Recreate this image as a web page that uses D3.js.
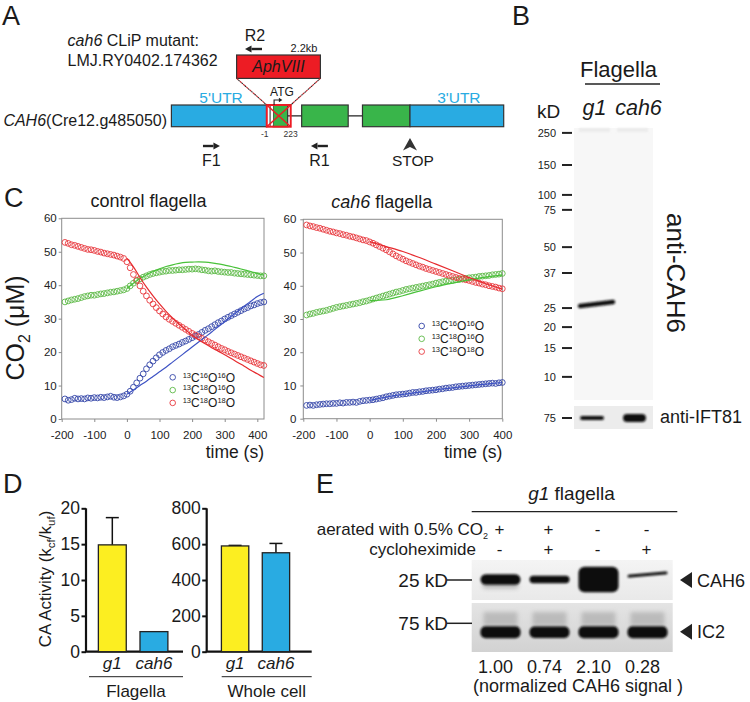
<!DOCTYPE html>
<html><head><meta charset="utf-8">
<script src="https://cdn.jsdelivr.net/npm/d3@7/dist/d3.min.js"></script>
<style>html,body{margin:0;padding:0;background:#fff;}svg{display:block;}</style>
</head><body>
<svg id="fig" width="750" height="702"></svg>
<script>
// ================= DATA =================
// Panel C – control flagella (time s, CO2 µM)
const ctrlTime = d3.range(-190, 421, 10);
const ctrl16_16 = [6.0,5.6,5.8,6.2,6.0,6.1,6.0,6.3,6.2,6.4,6.3,6.5,6.4,6.6,6.8,6.5,6.4,6.6,6.9,
  7.4,8.3,9.5,10.8,12.2,13.5,15.0,16.2,17.3,18.3,19.2,19.9,20.5,21.0,21.6,22.0,22.4,22.9,23.3,23.8,24.3,24.8,25.3,25.9,26.5,27.0,27.6,28.2,28.8,29.3,29.9,30.4,30.9,31.4,31.9,32.4,32.9,33.3,33.8,34.1,34.5,34.8,35.0];
const ctrl18_16 = [35.0,35.3,35.6,35.8,36.0,36.3,36.6,36.8,37.0,37.0,37.2,37.4,37.5,37.7,37.9,38.0,38.2,38.4,38.6,
  39.0,39.8,40.6,41.3,41.9,42.4,42.8,43.2,43.5,43.7,43.9,44.1,44.2,44.4,44.4,44.5,44.6,44.6,44.7,44.8,44.8,44.9,44.8,44.6,44.5,44.3,44.2,44.3,44.1,44.0,43.9,43.8,43.8,43.6,43.5,43.4,43.3,43.2,43.1,43.0,42.9,42.8,42.8];
const ctrl18_18 = [52.8,52.5,52.1,51.9,51.6,51.3,51.0,50.7,50.6,50.4,50.1,49.9,49.6,49.4,49.2,49.0,48.7,48.4,48.0,
  47.0,45.2,43.2,41.5,39.8,38.2,36.8,35.5,34.4,33.3,32.3,31.4,30.5,29.8,29.2,28.6,28.0,27.4,26.8,26.2,25.6,25.1,24.6,24.1,23.6,23.1,22.6,22.1,21.6,21.1,20.7,20.2,19.8,19.4,19.0,18.6,18.2,17.8,17.4,17.0,16.6,16.2,16.0];
const ctrlFitTime = d3.range(0, 421, 20);
const ctrlFit16_16 = [7.4,8.7,10.0,11.3,12.7,14.1,15.5,17.0,18.5,20.0,21.5,23.0,24.5,26.0,27.6,29.1,30.7,32.2,33.7,35.2,36.6,37.6];
const ctrlFit18_16 = [39.0,40.6,42.0,43.1,44.1,44.9,45.6,46.1,46.5,46.8,46.9,47.0,46.9,46.7,46.4,46.0,45.6,45.1,44.6,44.1,43.5,43.0];
const ctrlFit18_18 = [48.0,45.5,42.3,39.4,36.8,34.4,32.2,30.2,28.4,26.7,25.0,23.7,22.5,21.3,20.3,19.2,18.1,16.9,15.8,14.6,13.5,12.4];
// Panel C – cah6 flagella
const cahTime = d3.range(-190, 401, 10);
const cah16_16 = [4.0,4.1,4.0,4.2,4.3,4.4,4.5,4.5,4.6,4.6,4.8,4.7,4.9,4.9,5.0,4.9,5.2,5.4,5.5,
  5.6,5.7,5.9,6.1,6.3,6.6,6.8,7.0,7.2,7.3,7.4,7.5,7.7,7.9,7.9,8.1,8.2,8.4,8.5,8.6,8.7,8.9,9.0,9.2,9.3,9.4,9.6,9.7,9.8,9.9,10.0,10.1,10.2,10.3,10.4,10.5,10.6,10.7,10.6,10.8,10.9];
const cah18_16 = [31.2,31.5,31.7,32.0,32.2,32.4,32.6,32.9,33.2,33.5,33.7,33.9,34.1,34.3,34.5,34.7,34.9,35.2,35.4,
  35.7,36.0,36.3,36.6,36.9,37.2,37.5,37.8,38.1,38.3,38.6,38.9,39.1,39.3,39.5,39.7,39.9,40.1,40.3,40.5,40.8,41.0,41.2,41.4,41.5,41.6,41.8,41.9,42.1,42.2,42.4,42.5,42.6,42.8,42.9,43.0,43.1,43.3,43.4,43.5,43.7];
const cah18_18 = [58.3,58.0,57.8,57.5,57.3,57.0,56.7,56.4,56.2,55.9,55.7,55.4,55.2,54.9,54.7,54.4,54.1,53.8,53.6,
  53.2,52.8,52.3,51.8,51.3,50.8,50.2,49.6,49.0,48.5,48.0,47.5,47.1,46.7,46.3,45.9,45.6,45.2,44.9,44.6,44.3,44.0,43.7,43.4,43.1,42.8,42.5,42.2,42.0,41.8,41.6,41.3,41.0,40.8,40.5,40.3,40.0,39.8,39.6,39.3,39.1];
const cahFitTime = d3.range(0, 401, 50);
const cahFit16_16 = [5.5,6.5,7.3,8.0,8.7,9.3,9.9,10.4,10.9];
const cahFit18_16 = [35.5,35.8,37.0,38.4,39.7,40.8,41.8,42.6,43.3];
const cahFit18_18 = [53.3,51.8,50.3,48.5,46.5,44.5,42.5,40.6,39.0];
const isotopeNames = [["13","C","16","O","16","O"],["13","C","18","O","16","O"],["13","C","18","O","18","O"]];
const xTicksC = [-200,-100,0,100,200,300,400];
const yTicksC = [0,10,20,30,40,50,60];

// Panel D
const dCategories = ["g1","cah6"];
const flagellaActivity = [14.9, 2.8];
const flagellaErr = [3.8, 0];
const wholeCellActivity = [590, 552];
const wholeCellErr = [3, 52];
const flagellaTicks = [0,5,10,15,20];
const wholeCellTicks = [0,200,400,600,800];

// Panel B
const bLanes = ["g1","cah6"];
const markerKD = ["250","150","100","75","50","37","25","20","15","10"];
const markerRf = [0.018,0.136,0.246,0.301,0.438,0.533,0.662,0.732,0.809,0.915];
const cah6BandRf = 0.647;
const antiCAH6Signal = [1, 0];
const antiIFT81Signal = [0.5, 1];

// Panel E
const eLanes = [0,1,2,3];
const aeratedCO2 = ["+","+","-","-"];
const cycloheximide = ["-","+","-","+"];
const cah6Normalized = [1.00, 0.74, 2.10, 0.28];
const ic2Signal = [1, 0.95, 1, 1];

// Panel A gene model (schematic units 0–100)
const geneFeatures = [
  {type:"utr", start:0, end:28.7, label:"5'UTR"},
  {type:"exon", start:30.6, end:35.0},
  {type:"exon", start:39.2, end:53.2},
  {type:"exon", start:57.5, end:71.8},
  {type:"utr", start:71.8, end:100, label:"3'UTR"}
];
const insertion = {start:28.7, end:35.9};
const primers = [{name:"F1", start:9.5, end:14.6, dir:1}, {name:"R1", start:42.0, end:47.1, dir:-1}];

// ================= DRAW =================
const FONT = '"Liberation Sans", Arial, Helvetica, sans-serif';
const svg = d3.select('#fig').attr('font-family', FONT);
const defs = svg.append('defs');
function addBlur(id, sd){
  const f = defs.append('filter').attr('id', id).attr('filterUnits','userSpaceOnUse')
    .attr('x',0).attr('y',0).attr('width',750).attr('height',702);
  f.append('feGaussianBlur').attr('stdDeviation', sd);
}
addBlur('b05',0.5); addBlur('b08',0.8); addBlur('b12',1.2); addBlur('b2',2); addBlur('b3',3);
function grad(id, c1, c2){
  const g = defs.append('linearGradient').attr('id',id).attr('x1',0).attr('y1',0).attr('x2',0).attr('y2',1);
  g.append('stop').attr('offset','0%').attr('stop-color',c1);
  g.append('stop').attr('offset','100%').attr('stop-color',c2);
}
grad('gUp','#f4f4f4','#e9e9e9');
grad('gLo','#e4e4e4','#d2d2d2');

const INK = '#1a1a1a';
function txt(x, y, s, size, opt={}){
  const t = svg.append('text').attr('x',x).attr('y',y).attr('font-size',size).attr('fill',opt.fill||INK);
  if (s !== null) t.text(s);
  if (opt.anchor) t.attr('text-anchor', opt.anchor);
  if (opt.italic) t.attr('font-style','italic');
  return t;
}

// panel letters
txt(2,25,'A',27); txt(512,25,'B',27); txt(4,207,'C',27); txt(3,493,'D',27); txt(316,493,'E',27);

// ---------- Panel A ----------
txt(67.6,45.6,null,16).call(t=>{t.append('tspan').attr('font-style','italic').text('cah6'); t.append('tspan').text(' CLiP mutant:');});
txt(67.6,66,'LMJ.RY0402.174362',16);
txt(3.4,125.7,null,16).call(t=>{t.append('tspan').attr('font-style','italic').text('CAH6'); t.append('tspan').text('(Cre12.g485050)');});

const gx = d3.scaleLinear().domain([0,100]).range([171.4,503.7]);
const gy0 = 105, gh = 21.7, gyc = gy0 + gh/2;
svg.append('line').attr('x1',gx(0)).attr('x2',gx(100)).attr('y1',gyc).attr('y2',gyc).attr('stroke','#222').attr('stroke-width',1.3);
svg.append('g').selectAll('rect').data(geneFeatures).join('rect')
  .attr('x',d=>gx(d.start)).attr('width',d=>gx(d.end)-gx(d.start)).attr('y',gy0).attr('height',gh)
  .attr('fill',d=>d.type==='utr'?'#29abe2':'#39b54a').attr('stroke','#333').attr('stroke-width',1.2);
svg.append('g').selectAll('text').data(geneFeatures.filter(d=>d.label)).join('text')
  .attr('x',d=>(gx(d.start)+gx(d.end))/2 + 2).attr('y',103).attr('text-anchor','middle').attr('font-size',15.5).attr('fill','#29abe2').text(d=>d.label);
// insertion site
svg.append('rect').attr('x',gx(insertion.start)).attr('y',gy0+1).attr('width',gx(30.6)-gx(insertion.start)).attr('height',gh-2).attr('fill','#fff');
svg.append('line').attr('x1',gx(29.7)).attr('x2',gx(29.7)).attr('y1',gy0).attr('y2',gy0+gh).attr('stroke','#222').attr('stroke-width',1);
const ix0 = gx(insertion.start), ix1 = gx(insertion.end);
svg.append('rect').attr('x',ix0).attr('y',gy0).attr('width',ix1-ix0).attr('height',gh).attr('fill','none').attr('stroke','#ed1c24').attr('stroke-width',2);
svg.append('path').attr('d',`M${ix0},${gy0}L${ix1},${gy0+gh}M${ix1},${gy0}L${ix0},${gy0+gh}`).attr('stroke','#ed1c24').attr('stroke-width',1.5);
// AphVIII cassette
const aph = {x0:236.6, x1:320.4, y0:55, y1:78.4};
svg.append('rect').attr('x',aph.x0).attr('y',aph.y0).attr('width',aph.x1-aph.x0).attr('height',aph.y1-aph.y0).attr('fill','#ed1c24').attr('stroke','#333').attr('stroke-width',1.2);
txt((aph.x0+aph.x1)/2,72,'AphVIII',16,{anchor:'middle',italic:true});
[[aph.x0,ix0],[aph.x1,ix1]].forEach(([a,b])=>{
  svg.append('line').attr('x1',a).attr('y1',aph.y1).attr('x2',b).attr('y2',gy0).attr('stroke','#c1272d').attr('stroke-width',1.1).attr('stroke-dasharray','2.5,1.8');
  svg.append('line').attr('x1',a).attr('y1',aph.y1).attr('x2',b).attr('y2',gy0).attr('stroke','#222').attr('stroke-width',1.1).attr('stroke-dasharray','1.5,2.8').attr('stroke-dashoffset',-2.5);
});
txt(304,52.4,'2.2kb',11,{anchor:'middle'});
// ATG
txt(282,95.7,'ATG',12,{anchor:'middle'});
svg.append('path').attr('d',`M${gx(30.9)},${gy0}V100H${gx(32.5)}`).attr('fill','none').attr('stroke','#222').attr('stroke-width',1.1);
svg.append('path').attr('d',`M${gx(32.5)+3},100l-3.5,-2.2v4.4z`).attr('fill','#222');
txt(ix0-2,137,'-1',8.5,{anchor:'middle',fill:'#333'});
txt(ix1,137,'223',8.5,{anchor:'middle',fill:'#333'});
// primers
function arrow(x1,x2,y,dir){
  const head = 6.5;
  const xs = dir>0 ? [x1, x2-head] : [x1+head, x2];
  svg.append('line').attr('x1',xs[0]).attr('x2',xs[1]).attr('y1',y).attr('y2',y).attr('stroke','#222').attr('stroke-width',2.4);
  const tip = dir>0 ? x2 : x1;
  svg.append('path').attr('d',`M${tip},${y}L${tip-dir*head},${y-3.6}L${tip-dir*head},${y+3.6}Z`).attr('fill','#222');
}
primers.forEach(p=>{
  arrow(gx(p.start),gx(p.end),146,p.dir);
  txt((gx(p.start)+gx(p.end))/2,165.6,p.name,16,{anchor:'middle'});
});
arrow(245,262,49,-1);
txt(255,40.6,'R2',16,{anchor:'middle'});
// STOP
const sx = gx(71.8);
svg.append('path').attr('d',`M${sx},138L${sx+7},150.5L${sx},147L${sx-7},150.5Z`).attr('fill','#333');
txt(sx+3,165.6,'STOP',15.5,{anchor:'middle'});

// ---------- Panel B ----------
txt(618.5,77,'Flagella',22,{anchor:'middle'});
svg.append('line').attr('x1',585).attr('x2',660).attr('y1',84).attr('y2',84).attr('stroke','#222').attr('stroke-width',1.6);
txt(537,118,'kD',19);
const bBlot = {x:574, y:128, w:79, h:272};
const bLane = d3.scaleBand().domain(bLanes).range([bBlot.x, bBlot.x+bBlot.w]).padding(0.08);
svg.append('g').selectAll('text').data(bLanes).join('text')
  .attr('x',(d,i)=>bLane(d)+bLane.bandwidth()/2 + (i? 6:0)).attr('y',115).attr('text-anchor','middle')
  .attr('font-size',21.5).attr('font-style','italic').attr('fill',INK).text(d=>d);
svg.append('rect').attr('x',bBlot.x).attr('y',bBlot.y).attr('width',bBlot.w).attr('height',bBlot.h).attr('fill','#f7f7f7');
// faint well shading at top
bLanes.forEach(l=>{
  svg.append('rect').attr('x',bLane(l)+2).attr('y',bBlot.y).attr('width',bLane.bandwidth()-4).attr('height',4).attr('fill','#e4e4e4').attr('opacity',0.6).attr('filter','url(#b12)');
});
const bY = d3.scaleLinear().domain([0,1]).range([bBlot.y, bBlot.y+bBlot.h]);
const mk = svg.append('g');
markerKD.forEach((m,i)=>{
  const y = bY(markerRf[i]);
  mk.append('line').attr('x1',562).attr('x2',572).attr('y1',y).attr('y2',y).attr('stroke','#222').attr('stroke-width',2);
  mk.append('text').attr('x',556).attr('y',y).attr('dy','0.36em').attr('text-anchor','end').attr('font-size',11).attr('fill',INK).text(m);
});
const bandTh = d3.scaleLinear().domain([0,1]).range([0,4.5]);
bLanes.forEach((l,i)=>{
  if (!antiCAH6Signal[i]) return;
  const y = bY(cah6BandRf);
  const x0 = bLane(l)+1, x1 = bLane(l)+bLane.bandwidth()+3;
  svg.append('path').attr('d',`M${x0+2},${y+2}L${x1-2},${y-2}`).attr('stroke','#111').attr('stroke-width',bandTh(antiCAH6Signal[i])).attr('stroke-linecap','round').attr('filter','url(#b08)');
});
svg.append('text').attr('transform','translate(667,213) rotate(90)').attr('font-size',26).attr('fill',INK).text('anti-CAH6');
const bLo = {x:574, y:406, w:79, h:23};
svg.append('rect').attr('x',bLo.x).attr('y',bLo.y).attr('width',bLo.w).attr('height',bLo.h).attr('fill','#ececec');
const iftTh = d3.scaleLinear().domain([0,1]).range([0,8]);
bLanes.forEach((l,i)=>{
  const cy = bLo.y + 12, th = iftTh(antiIFT81Signal[i]);
  const x0 = bLane(l) + (i ? 8 : 3), x1 = bLane(l) + bLane.bandwidth() - (i ? 4 : 8);
  svg.append('rect').attr('x',x0).attr('y',cy-th/2).attr('width',x1-x0).attr('height',th).attr('rx',th/2)
    .attr('fill','#111').attr('filter','url(#b08)');
});
mk.append('line').attr('x1',562).attr('x2',572).attr('y1',418).attr('y2',418).attr('stroke','#222').attr('stroke-width',2);
mk.append('text').attr('x',556).attr('y',418).attr('dy','0.36em').attr('text-anchor','end').attr('font-size',11).attr('fill',INK).text('75');
txt(660,423,'anti-IFT81',18);

// ---------- Panel C ----------
const SERIES_COL = [
  {pt:'#3446a8', ln:'#3d52c4'},
  {pt:'#5cb946', ln:'#49c23a'},
  {pt:'#e8383d', ln:'#e62a2e'}
];
function kinetics(o){
  const x = d3.scaleLinear().domain(o.xDomain).range([o.x0,o.x1]);
  const y = d3.scaleLinear().domain([0,60]).range([o.y1,o.y0]);
  const g = svg.append('g');
  const ax = g.append('g').attr('transform',`translate(0,${o.y1})`).call(d3.axisBottom(x).tickValues(xTicksC).tickSize(3).tickPadding(9).tickFormat(d3.format('d')));
  const ay = g.append('g').attr('transform',`translate(${o.x0},0)`).call(d3.axisLeft(y).tickValues(yTicksC).tickSize(3).tickPadding(o.yPad));
  [ax,ay].forEach(a=>{
    a.attr('font-family',FONT).attr('font-size',11.5);
    a.select('.domain').remove();
    a.selectAll('line').attr('stroke','#8c8c8c');
    a.selectAll('text').attr('fill','#222');
  });
  ax.selectAll('text').text(d=>d<0?'-'+Math.abs(d):d);
  g.append('rect').attr('x',o.x0).attr('y',o.y0).attr('width',o.x1-o.x0).attr('height',o.y1-o.y0).attr('fill','none').attr('stroke','#8c8c8c').attr('stroke-width',1);
  o.series.forEach((s,k)=>{
    const pts = o.time.map((t,i)=>[t,s[i]]).filter(d=>d[1]!==undefined);
    g.append('g').selectAll('circle').data(pts).join('circle')
      .attr('cx',d=>x(d[0])).attr('cy',d=>y(d[1])).attr('r',2.9)
      .attr('fill','none').attr('stroke',SERIES_COL[k].pt).attr('stroke-width',0.9);
  });
  const line = d3.line().x(d=>x(d[0])).y(d=>y(d[1])).curve(d3.curveMonotoneX);
  o.fits.forEach((s,k)=>{
    g.append('path').attr('d',line(o.fitTime.map((t,i)=>[t,s[i]]))).attr('fill','none').attr('stroke',SERIES_COL[k].ln).attr('stroke-width',1.2);
  });
  // legend
  isotopeNames.forEach((parts,k)=>{
    const cy = o.legY + k*o.legDy;
    g.append('circle').attr('cx',o.legX).attr('cy',cy).attr('r',2.8).attr('fill','none').attr('stroke',SERIES_COL[k].pt).attr('stroke-width',0.9);
    const t = g.append('text').attr('x',o.legX+10).attr('y',cy+4.2).attr('fill',INK);
    parts.forEach((p,i)=>{
      const sup = i%2===0;
      t.append('tspan').attr('font-size',sup?7.5:12).attr('dy', sup? -4 : 4).text(p);
    });
  });
  txt(o.x1,458,'time (s)',17.5,{anchor:'end'});
}
kinetics({xDomain:[-200,420.5], x0:61.7, x1:264, y0:218.3, y1:419, yPad:2,
  time:ctrlTime, series:[ctrl16_16,ctrl18_16,ctrl18_18],
  fitTime:ctrlFitTime, fits:[ctrlFit16_16,ctrlFit18_16,ctrlFit18_18],
  legX:172.7, legY:377.3, legDy:12.8});
kinetics({xDomain:[-200,400], x0:303.3, x1:502.3, y0:219.3, y1:418.7, yPad:4,
  time:cahTime, series:[cah16_16,cah18_16,cah18_18],
  fitTime:cahFitTime, fits:[cahFit16_16,cahFit18_16,cahFit18_18],
  legX:421.7, legY:326, legDy:12.8});
txt(148.5,207,'control flagella',18,{anchor:'middle'});
txt(381.7,208,null,18,{anchor:'middle'}).call(t=>{t.append('tspan').attr('font-style','italic').text('cah6'); t.append('tspan').text(' flagella');});
svg.append('text').attr('transform','translate(24,328) rotate(-90)').attr('text-anchor','middle').attr('font-size',25).attr('fill',INK)
  .call(t=>{t.append('tspan').text('CO'); t.append('tspan').attr('font-size',16).attr('dy',6).text('2'); t.append('tspan').attr('dy',-6).text(' (\u03BCM)');});

// ---------- Panel D ----------
function barChart(o){
  const y = d3.scaleLinear().domain([0,o.max]).range([651.7,508.3]);
  const x = d3.scaleBand().domain(dCategories).range([o.x0,o.x1]).paddingInner(0.33).paddingOuter(o.pOut).align(o.align);
  const g = svg.append('g');
  const ay = g.append('g').attr('transform',`translate(${o.x0},0)`).call(d3.axisLeft(y).tickValues(o.ticks).tickSize(4.5).tickPadding(1.5));
  ay.attr('font-family',FONT).attr('font-size',17.5);
  ay.select('.domain').attr('stroke','#111').attr('stroke-width',2.2).attr('d',`M0,${y(0)}V${y(o.max)}`);
  ay.selectAll('line').attr('stroke','#111').attr('stroke-width',2);
  ay.selectAll('text').attr('fill',INK);
  g.append('line').attr('x1',o.x0-1).attr('x2',o.x1).attr('y1',y(0)).attr('y2',y(0)).attr('stroke','#111').attr('stroke-width',2.2);
  const colors = ['#fcee21','#29abe2'];
  o.vals.forEach((v,i)=>{
    const c = dCategories[i], bx = x(c), bw = x.bandwidth(), cx = bx+bw/2;
    if (o.errs[i] > 0){
      g.append('line').attr('x1',cx).attr('x2',cx).attr('y1',y(v)).attr('y2',y(v+o.errs[i])).attr('stroke','#111').attr('stroke-width',1.5);
      g.append('line').attr('x1',cx-6.5).attr('x2',cx+6.5).attr('y1',y(v+o.errs[i])).attr('y2',y(v+o.errs[i])).attr('stroke','#111').attr('stroke-width',1.5);
    }
    g.append('rect').attr('x',bx).attr('y',y(v)).attr('width',bw).attr('height',y(0)-y(v)).attr('fill',colors[i]).attr('stroke','#222').attr('stroke-width',1.3);
    g.append('text').attr('x',cx).attr('y',669).attr('text-anchor','middle').attr('font-size',17).attr('font-style','italic').attr('fill',INK).text(c);
  });
  g.append('line').attr('x1',o.lx0).attr('x2',o.x1).attr('y1',676.7).attr('y2',676.7).attr('stroke','#222').attr('stroke-width',1);
  g.append('text').attr('x',(o.lx0+o.x1)/2).attr('y',697).attr('text-anchor','middle').attr('font-size',17).attr('fill',INK).text(o.group);
}
barChart({max:20, ticks:flagellaTicks, vals:flagellaActivity, errs:flagellaErr, x0:86, x1:183, pOut:0.33, align:0.45, lx0:89, group:'Flagella'});
barChart({max:800, ticks:wholeCellTicks, vals:wholeCellActivity, errs:wholeCellErr, x0:206.7, x1:311.7, pOut:0.45, align:0.4, lx0:221.7, group:'Whole cell'});
svg.append('text').attr('transform','translate(51,579) rotate(-90)').attr('text-anchor','middle').attr('font-size',17).attr('fill',INK)
  .call(t=>{
    t.append('tspan').text('CA Activity (k');
    t.append('tspan').attr('font-size',11.5).attr('dy',3.5).text('cf');
    t.append('tspan').attr('dy',-3.5).text('/k');
    t.append('tspan').attr('font-size',11.5).attr('dy',3.5).text('uf');
    t.append('tspan').attr('dy',-3.5).text(')');
  });

// ---------- Panel E ----------
const eLane = d3.scaleBand().domain(eLanes).range([477,673]);
const ec = d => eLane(d) + eLane.bandwidth()/2;
txt(571.5,500,null,19,{anchor:'middle'}).call(t=>{t.append('tspan').attr('font-style','italic').text('g1'); t.append('tspan').text(' flagella');});
svg.append('line').attr('x1',471.7).attr('x2',677.3).attr('y1',511.7).attr('y2',511.7).attr('stroke','#222').attr('stroke-width',1.2);
txt(488,535,null,17,{anchor:'end'}).call(t=>{t.append('tspan').text('aerated with 0.5% CO'); t.append('tspan').attr('font-size',9).attr('dy',4).text('2');});
txt(476,555,'cycloheximide',17,{anchor:'end'});
svg.append('g').selectAll('text').data(eLanes).join('text').attr('x',d=>ec(d)-2).attr('y',535).attr('text-anchor','middle').attr('font-size',17).attr('fill',INK).text(d=>aeratedCO2[d]);
svg.append('g').selectAll('text').data(eLanes).join('text').attr('x',d=>ec(d)-2).attr('y',555).attr('text-anchor','middle').attr('font-size',17).attr('fill',INK).text(d=>cycloheximide[d]);
const eUp = {x:471.7, y:560, w:201, h:40}, eLo = {x:471.7, y:603, w:201, h:49};
svg.append('rect').attr('x',eUp.x).attr('y',eUp.y).attr('width',eUp.w).attr('height',eUp.h).attr('fill','url(#gUp)');
svg.append('rect').attr('x',eLo.x).attr('y',eLo.y).attr('width',eLo.w).attr('height',eLo.h).attr('fill','url(#gLo)');
const cahTh = d3.scalePow().exponent(1.2).domain([0,1]).range([0,10.5]);
const bandW = 40;
eLanes.forEach(d=>{
  const th = Math.max(3, cahTh(cah6Normalized[d]));
  const cx = ec(d) - 1, cy = 579.5;
  if (d===0) svg.append('rect').attr('x',cx-bandW/2+2).attr('y',cy+3).attr('width',bandW-4).attr('height',6).attr('rx',3).attr('fill','#777').attr('opacity',0.45).attr('filter','url(#b2)');
  svg.append('rect').attr('x',cx-bandW/2).attr('y',cy-th/2).attr('width',bandW).attr('height',th).attr('rx',Math.min(th/2,6)).attr('fill','#0d0d0d').attr('filter','url(#b12)')
    .attr('transform', d===3 ? `rotate(-5,${cx},${cy-5}) translate(0,-5)` : null);
});
const ic2Th = d3.scaleLinear().domain([0,1]).range([0,12]);
eLanes.forEach(d=>{
  const cx = ec(d) - 1, cy = 632.3, th = ic2Th(ic2Signal[d]);
  svg.append('rect').attr('x',cx-bandW/2+3).attr('y',612).attr('width',bandW-6).attr('height',14).attr('fill','#999').attr('opacity',0.5).attr('filter','url(#b2)');
  svg.append('rect').attr('x',cx-bandW/2).attr('y',cy-th/2).attr('width',bandW).attr('height',th).attr('rx',5).attr('fill','#0d0d0d').attr('filter','url(#b12)');
});
txt(448,586.5,'25 kD',19,{anchor:'end'});
txt(448,630,'75 kD',19,{anchor:'end'});
svg.append('line').attr('x1',447).attr('x2',472).attr('y1',580).attr('y2',580).attr('stroke','#222').attr('stroke-width',1.5);
svg.append('line').attr('x1',447).attr('x2',472).attr('y1',623.3).attr('y2',623.3).attr('stroke','#222').attr('stroke-width',1.5);
[[580,'CAH6'],[631.7,'IC2']].forEach(([y,s])=>{
  svg.append('path').attr('d',`M680,${y}L692,${y-8}V${y+8}Z`).attr('fill','#222');
  txt(697,y+6.5,s,18);
});
svg.append('g').selectAll('text').data(eLanes).join('text').attr('x',d=>ec(d)-6).attr('y',672.7).attr('text-anchor','middle').attr('font-size',18).attr('fill',INK).text(d=>cah6Normalized[d].toFixed(2));
txt(473,691.7,'(normalized CAH6 signal )',18);
</script>
</body></html>
